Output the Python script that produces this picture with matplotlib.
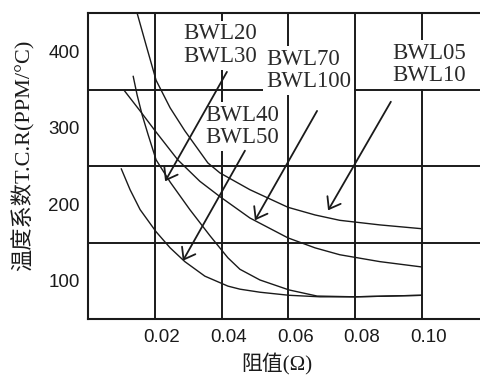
import matplotlib
matplotlib.use("Agg")
import matplotlib.pyplot as plt
from matplotlib.transforms import ScaledTranslation

# ---- data ----
curve_a_x = [0.0147, 0.0174, 0.0204, 0.0246, 0.0290, 0.0359, 0.0395, 0.0485, 0.0599, 0.0680, 0.0754, 0.0874, 0.1000]
curve_a_y = [450, 408, 362, 326, 296, 254, 241, 219, 196, 186, 179, 173, 168]

curve_b_x = [0.0108, 0.0156, 0.0201, 0.0269, 0.0335, 0.0395, 0.0485, 0.0599, 0.0680, 0.0754, 0.0874, 0.1000]
curve_b_y = [349, 322, 296, 258, 230, 210, 182, 156, 143, 134, 125, 118]

curve_c_x = [0.0135, 0.0147, 0.0162, 0.0180, 0.0204, 0.0246, 0.0305, 0.0365, 0.0419, 0.0455, 0.0515, 0.0602, 0.0686, 0.0799, 0.1000]
curve_c_y = [368, 343, 317, 291, 258, 229, 193, 159, 130, 115, 101, 88, 80, 79, 81]

curve_d_x = [0.0099, 0.0126, 0.0156, 0.0204, 0.0246, 0.0290, 0.0350, 0.0419, 0.0455, 0.0515, 0.0602, 0.0695, 0.0802, 0.1000]
curve_d_y = [247, 219, 193, 164, 143, 125, 106, 93, 89, 85, 81, 79, 79, 81]

x_ticks = [0.02, 0.04, 0.06, 0.08, 0.10]
x_tick_labels = ["0.02", "0.04", "0.06", "0.08", "0.10"]
y_ticks = [100, 200, 300, 400]
y_tick_labels = ["100", "200", "300", "400"]
y_grid = [150, 250, 350]

labels = ["BWL20\nBWL30", "BWL70\nBWL100", "BWL05\nBWL10", "BWL40\nBWL50"]
label_x = [0.0284, 0.0533, 0.0910, 0.0350]
label_y = [408, 375, 383, 302]

arrow_start_x = [0.0416, 0.0470, 0.0686, 0.0907]
arrow_start_y = [373, 270, 322, 334]
arrow_end_x = [0.0231, 0.0284, 0.0500, 0.0719]
arrow_end_y = [230, 126, 179, 192]

x_label = "阻值(Ω)"
y_label = "温度系数T.C.R(PPM/°C)"

# ---- figure ----
ink = "#1a1a1a"
fig = plt.figure(figsize=(4.8, 3.76), dpi=100)
ax = fig.add_axes([88 / 480, 57 / 376, 392 / 480, 306 / 376])
ax.set_xlim(0, 0.1174)
ax.set_ylim(50, 450)

for s in ["left", "top", "bottom"]:
    ax.spines[s].set_linewidth(1.5)
    ax.spines[s].set_color(ink)
ax.spines["right"].set_visible(False)

ax.set_xticks(x_ticks)
ax.set_xticklabels(x_tick_labels, fontfamily="Liberation Sans", fontsize=13.5, color=ink)
ax.set_yticks(y_ticks)
ax.set_yticklabels(y_tick_labels, fontfamily="Liberation Sans", fontsize=13.5, color=ink)
ax.set_yticks(y_grid, minor=True)
ax.tick_params(axis="both", which="both", length=0)
ax.tick_params(axis="x", pad=7)
ax.tick_params(axis="y", pad=6)
for lab in ax.get_xticklabels():
    lab.set_transform(lab.get_transform() + ScaledTranslation(0.07, 0, fig.dpi_scale_trans))

ax.grid(True, axis="x", which="major", color=ink, lw=1.4, zorder=1)
ax.grid(True, axis="y", which="minor", color=ink, lw=1.4, zorder=1)
ax.set_axisbelow(True)

for xs, ys in [(curve_a_x, curve_a_y), (curve_b_x, curve_b_y),
               (curve_c_x, curve_c_y), (curve_d_x, curve_d_y)]:
    ax.plot(xs, ys, color=ink, lw=1.0, zorder=2, solid_capstyle="butt")

for t, tx, ty in zip(labels, label_x, label_y):
    ax.text(tx, ty, t, ha="left", va="center", fontfamily="Liberation Serif",
            fontsize=16.5, color="#2a2a2a", linespacing=1.08, zorder=3,
            bbox=dict(boxstyle="square,pad=0.12", fc="white", ec="none"))

for sx, sy, ex, ey in zip(arrow_start_x, arrow_start_y, arrow_end_x, arrow_end_y):
    ax.annotate("", xy=(ex, ey), xytext=(sx, sy), zorder=4,
                arrowprops=dict(arrowstyle="->,head_length=0.75,head_width=0.55",
                                color=ink, lw=1.3, mutation_scale=10,
                                shrinkA=0, shrinkB=0))

cjk = ["Liberation Serif", "Noto Sans CJK SC"]
ax.set_xlabel(x_label, fontfamily=cjk, fontsize=15, color=ink)
ax.xaxis.set_label_coords(0.482, -0.112)
ax.set_ylabel(y_label, fontfamily=cjk, fontsize=16, color=ink)
ax.yaxis.set_label_coords(-0.136, 0.536)

fig.savefig("out.png", dpi=100)
